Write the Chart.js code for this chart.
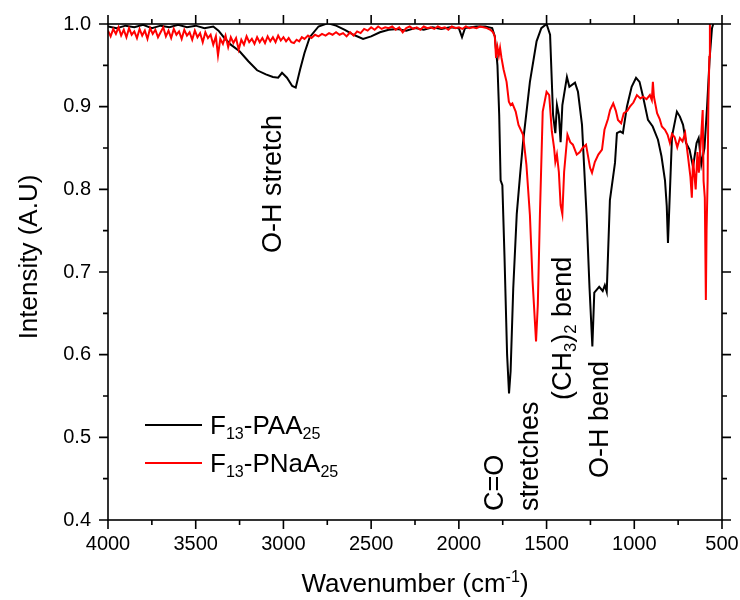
<!DOCTYPE html>
<html>
<head>
<meta charset="utf-8">
<script src="https://cdn.jsdelivr.net/npm/chart.js@4.4.0/dist/chart.umd.min.js"></script>
<style>
  body { margin: 0; background: #fff; }
  #wrap { width: 740px; height: 600px; }
</style>
</head>
<body>
<div id="wrap"><canvas id="ftir" width="740" height="600"></canvas></div>
<script>
"use strict";

// --- data ---
// F13-PAA25 (black)
const wnPAA = [4000, 3950, 3900, 3850, 3800, 3750, 3700, 3650, 3600, 3550, 3500, 3450, 3400, 3370, 3340, 3300,
  3250, 3200, 3150, 3100, 3060, 3030, 3008, 2980, 2950, 2930, 2905, 2880, 2850, 2800, 2745, 2700, 2650, 2600,
  2546, 2500, 2450, 2400, 2350, 2300, 2250, 2200, 2150, 2100, 2050, 2000, 1982, 1965, 1900, 1850, 1810, 1795,
  1780, 1770, 1762, 1752, 1740, 1725, 1714, 1705, 1690, 1670, 1650, 1634, 1595, 1557, 1530, 1500, 1480, 1463,
  1450, 1441, 1430, 1420, 1410, 1384, 1370, 1338, 1321, 1298, 1272, 1255, 1239, 1228, 1200, 1180, 1168, 1157,
  1139, 1110, 1099, 1080, 1065, 1042, 1015, 990, 970, 950, 922, 895, 865, 845, 825, 815, 808, 800, 785, 757,
  740, 722, 705, 685, 665, 645, 633, 618, 600, 585, 570, 557, 550];
const intPAA = [0.997, 0.995, 0.998, 0.996, 0.999, 0.995, 0.998, 0.996, 0.999, 0.996, 0.998, 0.995, 0.997, 0.992, 0.984, 0.975,
  0.967, 0.955, 0.944, 0.939, 0.936, 0.935, 0.941, 0.935, 0.925, 0.923, 0.945, 0.965, 0.984, 0.997, 1.001, 0.998, 0.993, 0.987,
  0.982, 0.985, 0.990, 0.993, 0.994, 0.992, 0.995, 0.993, 0.996, 0.994, 0.996, 0.995, 0.984, 0.995, 0.997, 0.997, 0.995, 0.985,
  0.950, 0.890, 0.811, 0.805, 0.720, 0.600, 0.553, 0.580, 0.680, 0.770, 0.820, 0.857, 0.930, 0.979, 0.995, 1.000, 0.987, 0.890,
  0.868, 0.902, 0.890, 0.857, 0.902, 0.936, 0.924, 0.929, 0.918, 0.878, 0.769, 0.680, 0.610, 0.675, 0.682, 0.677, 0.684, 0.676,
  0.787, 0.832, 0.868, 0.870, 0.868, 0.900, 0.924, 0.935, 0.930, 0.912, 0.884, 0.876, 0.860, 0.840, 0.811, 0.780, 0.735, 0.780, 0.864, 0.894,
  0.888, 0.878, 0.856, 0.848, 0.827, 0.856, 0.862, 0.830, 0.850, 0.900, 0.960, 0.995, 1.000];

// F13-PNaA25 (red)
const wnPNaA = [4000, 3985, 3970, 3955, 3940, 3925, 3910, 3895, 3880, 3865, 3850, 3835, 3820, 3805, 3790, 3775,
  3760, 3745, 3730, 3715, 3700, 3685, 3670, 3655, 3640, 3625, 3610, 3595, 3580, 3565, 3550, 3535, 3520, 3505,
  3490, 3475, 3460, 3445, 3430, 3415, 3400, 3385, 3373, 3360, 3345, 3330, 3315, 3300, 3285, 3270, 3255, 3240,
  3225, 3210, 3195, 3180, 3165, 3150, 3135, 3120, 3105, 3090, 3075, 3060, 3045, 3030, 3015, 3000, 2985, 2970,
  2955, 2940, 2925, 2910, 2895, 2880, 2860, 2840, 2820, 2800, 2780, 2760, 2740, 2720, 2700, 2680, 2660, 2640,
  2620, 2600, 2580, 2560, 2540, 2520, 2500, 2480, 2460, 2440, 2420, 2400, 2380, 2360, 2340, 2320, 2300, 2280,
  2260, 2240, 2220, 2200, 2180, 2160, 2140, 2120, 2100, 2080, 2060, 2040, 2020, 2000, 1980, 1960, 1940, 1920,
  1900, 1880, 1860, 1840, 1820, 1805, 1795, 1788, 1780, 1772, 1765, 1757, 1745, 1728, 1715, 1705, 1695, 1676,
  1660, 1634, 1615, 1595, 1580, 1560, 1550, 1538, 1522, 1500, 1485, 1470, 1457, 1450, 1441, 1430, 1420, 1410,
  1400, 1381, 1365, 1350, 1328, 1310, 1295, 1275, 1252, 1241, 1225, 1205, 1184, 1170, 1150, 1138, 1120, 1105,
  1093, 1075, 1060, 1040, 1025, 1005, 985, 965, 950, 930, 911, 900, 894, 888, 870, 855, 843, 825, 810, 797,
  785, 770, 755, 740, 725, 710, 694, 680, 672, 665, 650, 640, 632, 620, 610, 605, 598, 592, 588, 582, 578, 572, 569];
const intPNaA = [0.992, 0.985, 0.994, 0.988, 0.996, 0.986, 0.993, 0.984, 0.995, 0.987, 0.991, 0.983, 0.994, 0.986, 0.992, 0.982,
  0.995, 0.988, 0.993, 0.984, 0.990, 0.996, 0.985, 0.992, 0.983, 0.994, 0.987, 0.991, 0.982, 0.993, 0.986, 0.990, 0.981, 0.992,
  0.984, 0.989, 0.978, 0.990, 0.983, 0.987, 0.975, 0.985, 0.962, 0.982, 0.976, 0.986, 0.972, 0.984, 0.977, 0.983, 0.969, 0.981,
  0.975, 0.985, 0.978, 0.982, 0.976, 0.984, 0.978, 0.983, 0.977, 0.985, 0.979, 0.984, 0.978, 0.986, 0.980, 0.984, 0.979, 0.983,
  0.978, 0.977, 0.981, 0.979, 0.984, 0.982, 0.986, 0.983, 0.987, 0.985, 0.988, 0.986, 0.989, 0.987, 0.990, 0.987, 0.989, 0.985,
  0.990, 0.986, 0.991, 0.989, 0.994, 0.992, 0.996, 0.993, 0.997, 0.994, 0.996, 0.995, 0.997, 0.993, 0.996, 0.990, 0.995, 0.997,
  0.994, 0.996, 0.993, 0.997, 0.995, 0.996, 0.994, 0.997, 0.995, 0.996, 0.993, 0.997, 0.995, 0.996, 0.994, 0.997, 0.995, 0.996,
  0.995, 0.997, 0.996, 0.995, 0.993, 0.990, 0.985, 0.959, 0.972, 0.962, 0.971, 0.959, 0.945, 0.930, 0.906, 0.902, 0.904, 0.894,
  0.878, 0.866, 0.830, 0.769, 0.690, 0.616, 0.660, 0.769, 0.894, 0.918, 0.914, 0.870, 0.850, 0.833, 0.842, 0.821, 0.781, 0.770,
  0.821, 0.866, 0.857, 0.854, 0.842, 0.845, 0.850, 0.854, 0.826, 0.820, 0.833, 0.842, 0.848, 0.872, 0.885, 0.896, 0.904, 0.895,
  0.884, 0.880, 0.892, 0.895, 0.900, 0.905, 0.914, 0.910, 0.912, 0.909, 0.914, 0.908, 0.930, 0.912, 0.892, 0.885, 0.876, 0.872, 0.866, 0.856,
  0.867, 0.863, 0.851, 0.862, 0.858, 0.868, 0.840, 0.815, 0.790, 0.836, 0.800, 0.845, 0.820, 0.860, 0.896, 0.810, 0.790, 0.666, 0.750, 0.810, 0.900, 0.960, 1.000];

// axis ticks
const xTicks = [4000, 3500, 3000, 2500, 2000, 1500, 1000, 500];
const yTicks = [0.4, 0.5, 0.6, 0.7, 0.8, 0.9, 1.0];

const FONT = "'Liberation Sans', Arial, sans-serif";

function toPoints(xs, ys) {
    return xs.map((x, i) => ({ x: x, y: ys[i] }));
}

// rich text: segments [text, mode]  mode 0 normal, -1 sub, 1 sup
function richWidth(ctx, segs, size) {
    let w = 0;
    segs.forEach(s => {
        ctx.font = (s[1] ? size * 0.62 : size) + "px " + FONT;
        w += ctx.measureText(s[0]).width;
    });
    return w;
}
function drawRich(ctx, segs, x, y, size) {
    let cx = x;
    segs.forEach(s => {
        const sz = s[1] ? size * 0.62 : size;
        ctx.font = sz + "px " + FONT;
        let dy = 0;
        if (s[1] === -1) dy = size * 0.28;
        if (s[1] === 1) dy = -size * 0.38;
        ctx.fillText(s[0], cx, y + dy);
        cx += ctx.measureText(s[0]).width;
    });
}

// frame, ticks, labels, legend
const decor = {
    id: 'decor',
    afterDraw(chart) {
        const ctx = chart.ctx;
        const a = chart.chartArea;
        const xs = chart.scales.x, ys = chart.scales.y;
        ctx.save();
        ctx.strokeStyle = '#000';
        ctx.fillStyle = '#000';
        ctx.lineWidth = 1.6;
        ctx.strokeRect(a.left, a.top, a.right - a.left, a.bottom - a.top);

        // ticks on all four sides, outward
        ctx.beginPath();
        for (let w = 500; w <= 4000; w += 250) {
            const px = xs.getPixelForValue(w);
            const len = (w % 500 === 0) ? 9 : 5;
            ctx.moveTo(px, a.bottom); ctx.lineTo(px, a.bottom + len);
            ctx.moveTo(px, a.top); ctx.lineTo(px, a.top - len);
        }
        for (let k = 0; k <= 12; k++) {
            const v = 0.4 + k * 0.05;
            const py = ys.getPixelForValue(v);
            const len = (k % 2 === 0) ? 9 : 5;
            ctx.moveTo(a.left, py); ctx.lineTo(a.left - len, py);
            ctx.moveTo(a.right, py); ctx.lineTo(a.right + len, py);
        }
        ctx.stroke();

        ctx.textBaseline = 'alphabetic';
        ctx.textAlign = 'left';

        // x title
        const xt = [['Wavenumber (cm', 0], ['-1', 1], [')', 0]];
        const xw = richWidth(ctx, xt, 26);
        drawRich(ctx, xt, 415 - xw / 2, 592, 26);

        // y title
        ctx.save();
        ctx.translate(37, 257);
        ctx.rotate(-Math.PI / 2);
        ctx.textAlign = 'center';
        ctx.font = "26px " + FONT;
        ctx.fillText('Intensity (A.U)', 0, 0);
        ctx.restore();

        // band labels, rotated
        ctx.textBaseline = 'middle';
        const notes = [
            [[['O-H stretch', 0]], 274, 253],
            [[['C=O', 0]], 496, 511],
            [[['stretches', 0]], 531, 511],
            [[['(CH', 0], ['3', -1], [')', 0], ['2', -1], [' bend', 0]], 564, 400],
            [[['O-H bend', 0]], 601, 478]
        ];
        notes.forEach(n => {
            ctx.save();
            ctx.translate(n[1], n[2]);
            ctx.rotate(-Math.PI / 2);
            drawRich(ctx, n[0], 0, 0, 27);
            ctx.restore();
        });

        // legend
        const leg = [
            ['#000000', [['F', 0], ['13', -1], ['-PAA', 0], ['25', -1]], 425],
            ['#ff0000', [['F', 0], ['13', -1], ['-PNaA', 0], ['25', -1]], 463]
        ];
        leg.forEach(l => {
            ctx.strokeStyle = l[0];
            ctx.lineWidth = 2;
            ctx.beginPath();
            ctx.moveTo(145, l[2]); ctx.lineTo(202, l[2]);
            ctx.stroke();
            ctx.fillStyle = '#000';
            drawRich(ctx, l[1], 210, l[2] + 2, 26);
        });
        ctx.restore();
    }
};

const data = {
    datasets: [{
        label: 'F13-PAA25',
        data: toPoints(wnPAA, intPAA),
        borderColor: '#000000',
        borderWidth: 2,
        pointRadius: 0,
        order: 2,
    }, {
        label: 'F13-PNaA25',
        data: toPoints(wnPNaA, intPNaA),
        borderColor: '#ff0000',
        borderWidth: 2,
        pointRadius: 0,
        order: 1,
    }]
};

const config = {
    type: 'line',
    data: data,
    options: {
        responsive: false,
        animation: false,
        layout: { padding: { top: 24, right: 18, left: 0, bottom: 0 } },
        scales: {
            x: {
                type: 'linear',
                reverse: true,
                min: 500,
                max: 4000,
                afterFit(s) { s.height = 80; s.paddingLeft = 0; s.paddingRight = 0; },
                afterBuildTicks(s) { s.ticks = xTicks.map(v => ({ value: v })); },
                grid: { display: false, drawTicks: false },
                border: { display: false },
                ticks: {
                    padding: 12,
                    color: '#000',
                    maxRotation: 0,
                    autoSkip: false,
                    font: { family: FONT, size: 20 },
                    callback: v => String(v),
                },
            },
            y: {
                min: 0.4,
                max: 1.0,
                afterFit(s) { s.width = 108; s.paddingTop = 0; s.paddingBottom = 0; },
                afterBuildTicks(s) { s.ticks = yTicks.map(v => ({ value: v })); },
                grid: { display: false, drawTicks: false },
                border: { display: false },
                ticks: {
                    padding: 17,
                    color: '#000',
                    font: { family: FONT, size: 20 },
                    callback: v => v.toFixed(1),
                },
            },
        },
        plugins: {
            legend: { display: false },
            tooltip: { enabled: false },
        },
    },
    plugins: [decor],
};

new Chart(document.getElementById('ftir'), config);
</script>
</body>
</html>
